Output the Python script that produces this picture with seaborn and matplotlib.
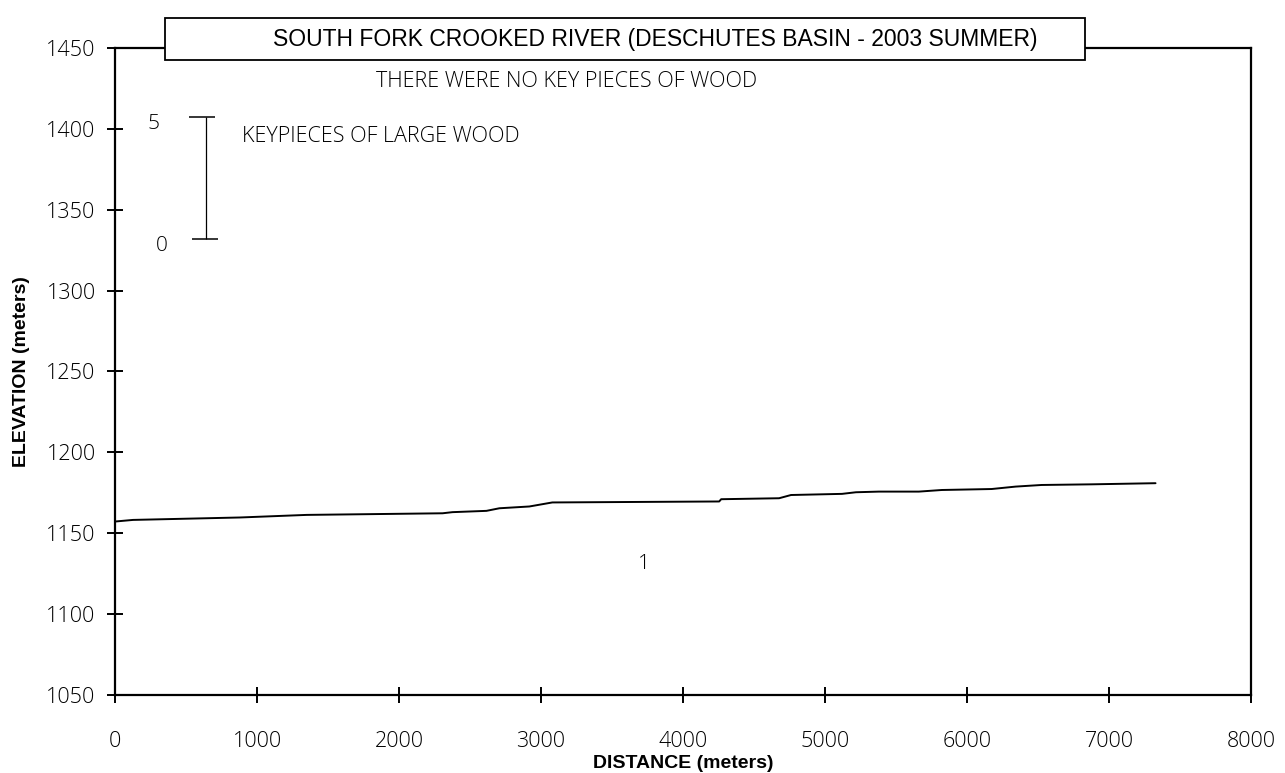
import matplotlib
matplotlib.use("Agg")
import matplotlib.pyplot as plt
from matplotlib.patches import Rectangle
import pandas as pd
import seaborn as sns

# Longitudinal profile of the surveyed reach
distance_m = [0, 127, 879, 1350, 2307, 2377, 2616, 2707, 2918, 3080, 4255, 4269,
              4677, 4761, 5120, 5218, 5380, 5661, 5823, 6174, 6343, 6526, 6878, 7328]
elevation_m = [1157.2, 1158.2, 1159.7, 1161.3, 1162.3, 1163.0, 1163.8, 1165.4,
               1166.5, 1169.0, 1169.6, 1171.0, 1171.6, 1173.6, 1174.3, 1175.3,
               1175.7, 1175.7, 1176.7, 1177.3, 1178.8, 1179.8, 1180.2, 1180.9]

x_ticks = [0, 1000, 2000, 3000, 4000, 5000, 6000, 7000, 8000]
y_ticks = [1050, 1100, 1150, 1200, 1250, 1300, 1350, 1400, 1450]

reach_labels = ["1"]
reach_label_x = [3727]
reach_label_y = [1131]

title = "SOUTH FORK CROOKED RIVER (DESCHUTES BASIN - 2003 SUMMER)"
note = "THERE WERE NO KEY PIECES OF WOOD"
scale_caption = "KEYPIECES OF LARGE WOOD"
scale_values = ["0", "5"]

sns.set_style("ticks")
plt.rcParams["font.family"] = ["Open Sans", "DejaVu Sans"]
plt.rcParams["text.color"] = "black"
plt.rcParams["axes.labelcolor"] = "black"

LIGHT = dict(family=["Open Sans", "DejaVu Sans"], fontweight="light", color="black")
BOLD = dict(family=["Liberation Sans", "DejaVu Sans"], fontweight="bold", color="black")

fig = plt.figure(figsize=(12.85, 7.73), dpi=100)
ax = fig.add_axes([0.0895, 0.101, 0.884, 0.837])

df = pd.DataFrame({"distance": distance_m, "elevation": elevation_m})
sns.lineplot(data=df, x="distance", y="elevation", ax=ax, color="black",
             linewidth=1.4, estimator=None, sort=False)

ax.set_xlim(0, 8000)
ax.set_ylim(1050, 1450)
ax.set_xticks(x_ticks)
ax.set_yticks(y_ticks)
ax.set_xticklabels([str(v) for v in x_ticks], fontsize=15.5, **LIGHT)
ax.set_yticklabels([str(v) for v in y_ticks], fontsize=15.5, **LIGHT)
ax.tick_params(axis="both", direction="inout", length=12, width=1.4, colors="black")
ax.tick_params(axis="y", pad=8)
ax.tick_params(axis="x", pad=20)
for side in ["left", "bottom", "right", "top"]:
    ax.spines[side].set_visible(True)
    ax.spines[side].set_linewidth(1.6)
    ax.spines[side].set_color("black")

ax.set_xlabel("DISTANCE (meters)", fontsize=14, labelpad=2, **BOLD)
ax.set_ylabel("ELEVATION (meters)", fontsize=14, labelpad=12, **BOLD)

# Title box sitting over the top frame line
fig.patches.append(Rectangle((0.1284, 0.9224), 0.716, 0.0543, transform=fig.transFigure,
                             facecolor="white", edgecolor="black", linewidth=1.3,
                             zorder=5))
fig.text(0.5097, 0.9495, title, ha="center", va="center", fontsize=16.5,
         family=["Liberation Sans", "DejaVu Sans"], color="black", zorder=6)

ax.text(3180, 1429.5, note, ha="center", va="center", fontsize=15.5, **LIGHT)

# Scale bar for key pieces of large wood
ax.vlines(640, 1332, 1407.5, color="black", linewidth=0.9)
ax.hlines(1407.5, 520, 705, color="black", linewidth=1.1)
ax.hlines(1332, 540, 725, color="black", linewidth=1.1)
ax.text(274, 1403, scale_values[1], ha="center", va="center", fontsize=15, **LIGHT)
ax.text(330, 1327.5, scale_values[0], ha="center", va="center", fontsize=15, **LIGHT)
ax.text(893, 1395.5, scale_caption, ha="left", va="center", fontsize=15.5, **LIGHT)

for lab, lx, ly in zip(reach_labels, reach_label_x, reach_label_y):
    ax.text(lx, ly, lab, ha="center", va="center", fontsize=15, **LIGHT)

fig.savefig("out.png", dpi=100, facecolor="white")
